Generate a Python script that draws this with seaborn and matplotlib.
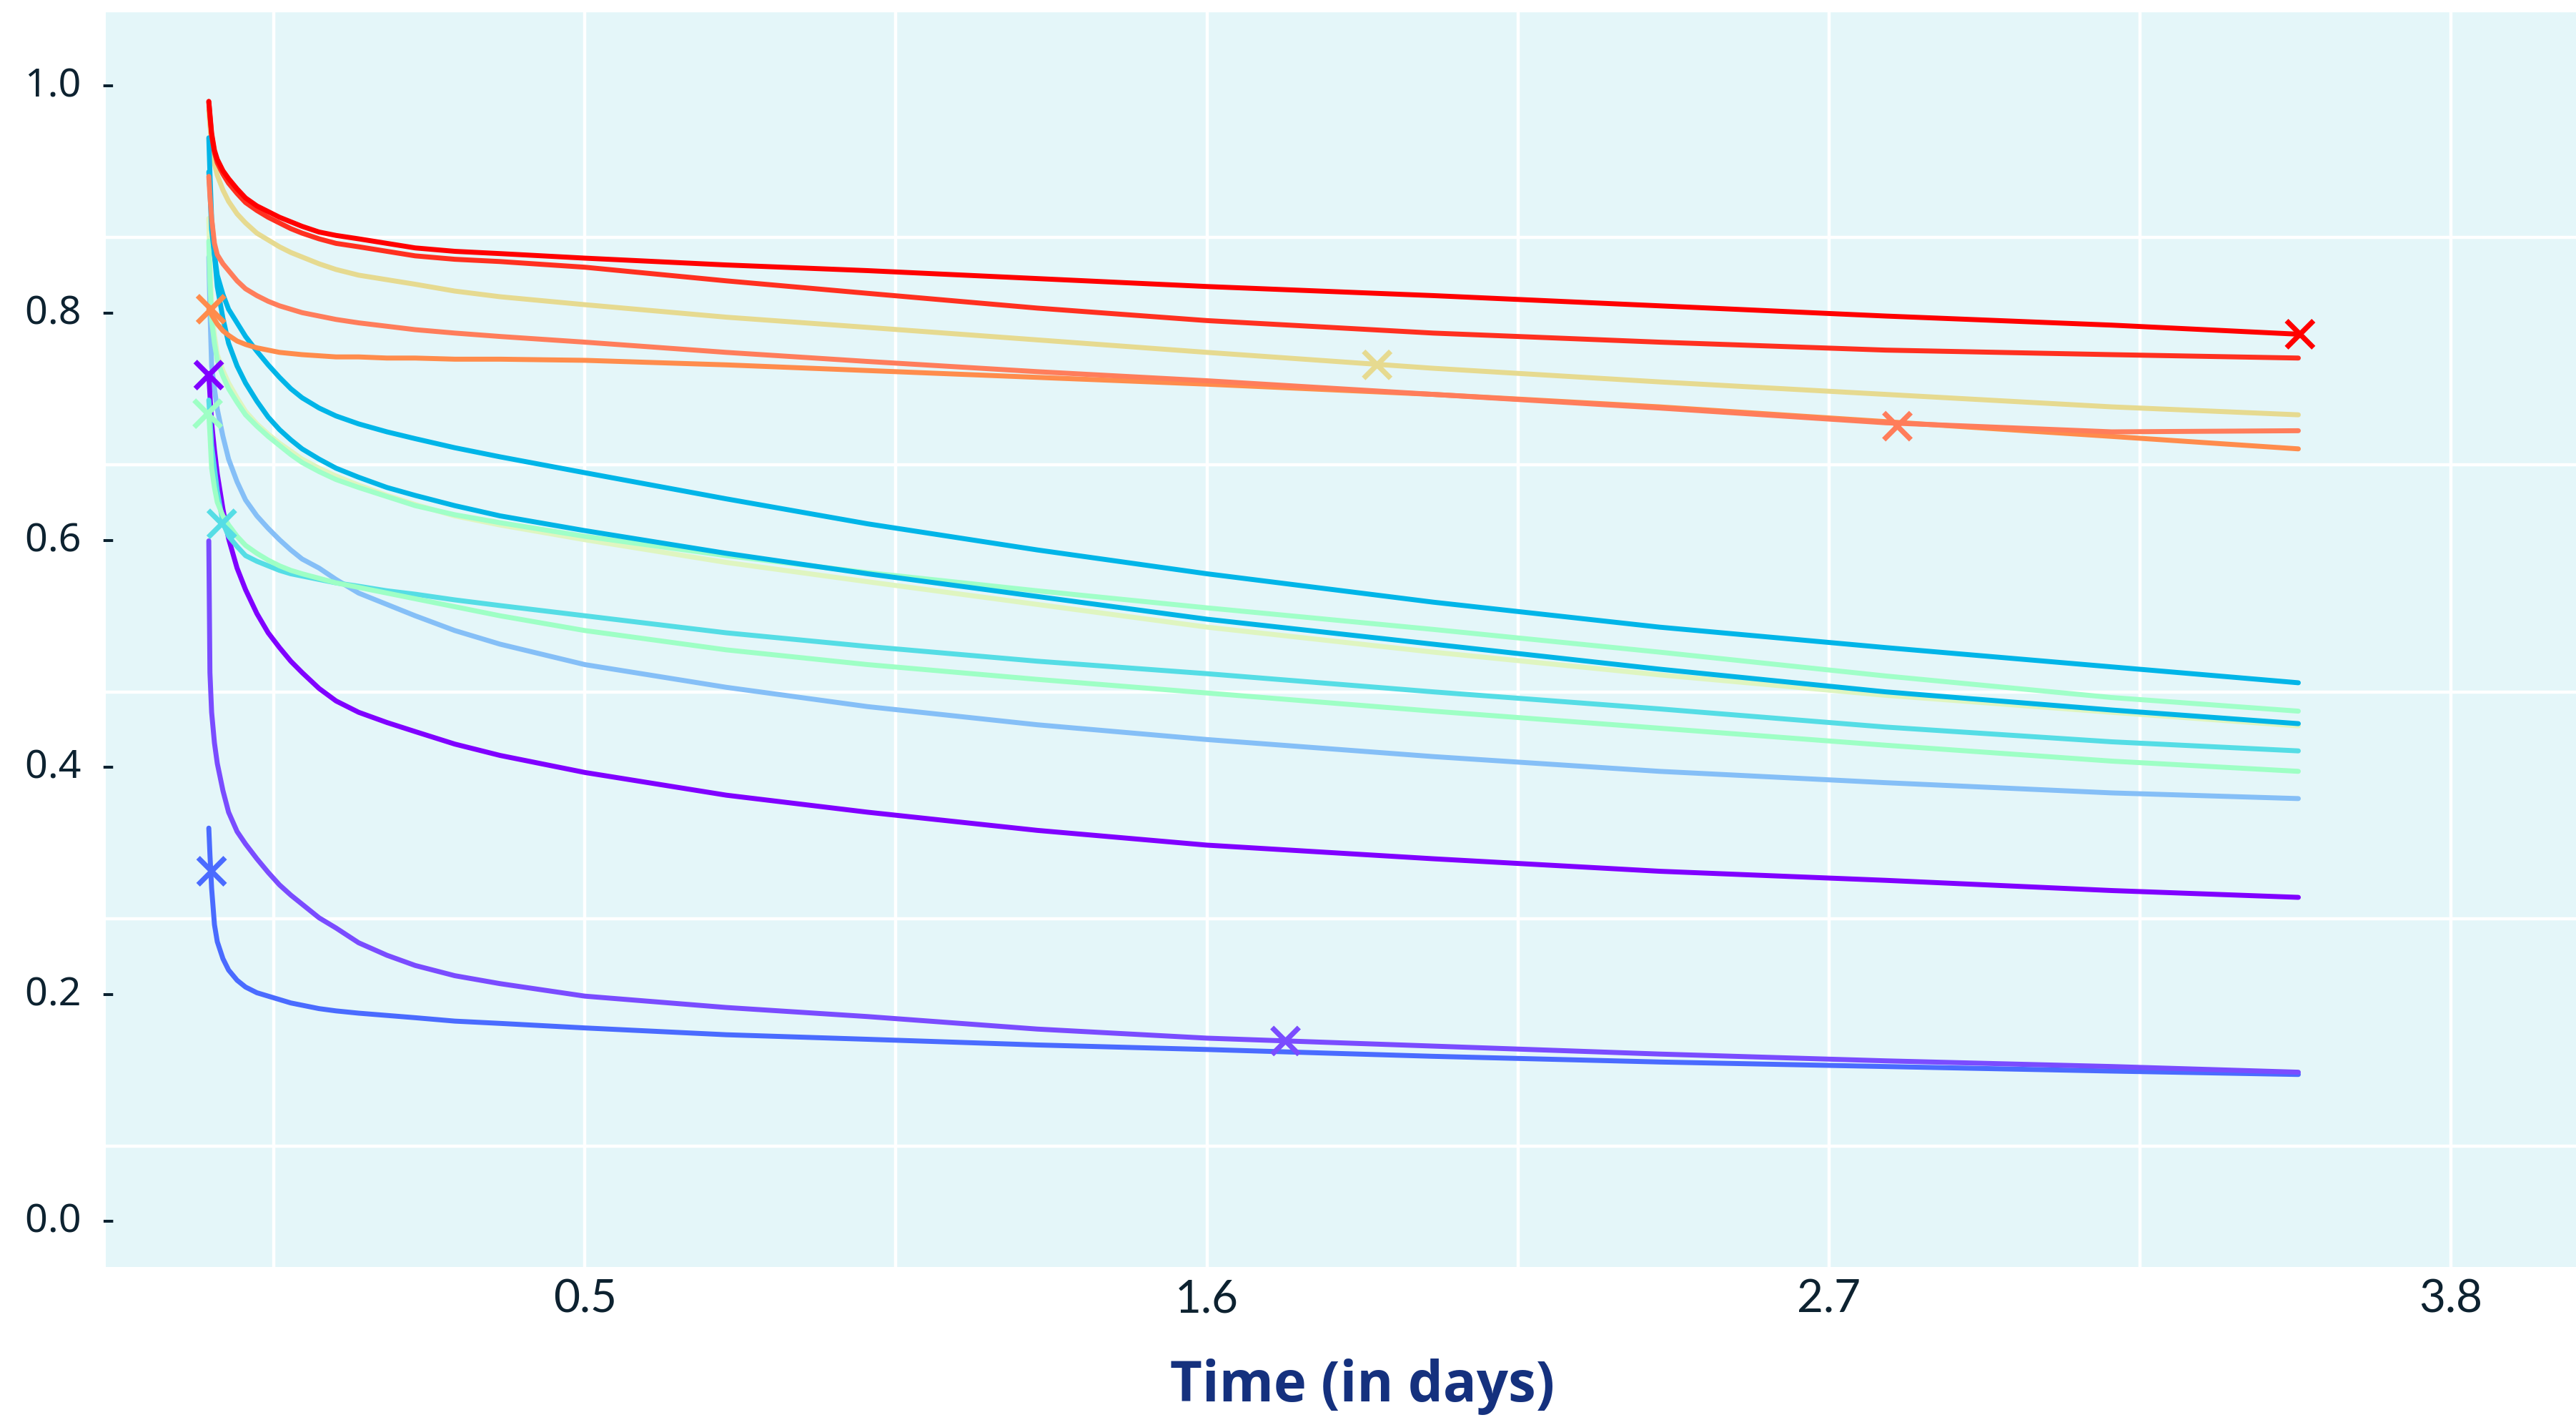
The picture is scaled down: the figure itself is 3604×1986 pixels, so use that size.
import numpy as np
import pandas as pd
import matplotlib.pyplot as plt
import seaborn as sns

# time grid (days) shared by every curve
days = [-0.165, -0.163, -0.16, -0.155, -0.15, -0.14, -0.13, -0.115, -0.1, -0.08,
        -0.06, -0.04, -0.02, 0.0, 0.03, 0.06, 0.1, 0.15, 0.2, 0.27, 0.35,
        0.5, 0.75, 1.0, 1.3, 1.6, 2.0, 2.4, 2.8, 3.2, 3.53]

pale   = [0.880, 0.840, 0.800, 0.777, 0.760, 0.746, 0.735, 0.722, 0.710, 0.699,
          0.690, 0.682, 0.675, 0.668, 0.660, 0.653, 0.645, 0.636, 0.628, 0.618, 0.610,
          0.597, 0.577, 0.560, 0.540, 0.520, 0.498, 0.478, 0.460, 0.445, 0.433]
khaki  = [0.975, 0.962, 0.945, 0.928, 0.918, 0.905, 0.895, 0.884, 0.876, 0.867,
          0.861, 0.855, 0.850, 0.846, 0.840, 0.835, 0.830, 0.826, 0.822, 0.816, 0.811,
          0.804, 0.793, 0.784, 0.773, 0.762, 0.748, 0.736, 0.725, 0.714, 0.707]
lblue  = [0.846, 0.800, 0.750, 0.730, 0.712, 0.688, 0.668, 0.648, 0.632, 0.618,
          0.607, 0.597, 0.588, 0.580, 0.572, 0.562, 0.550, 0.540, 0.530, 0.517, 0.505,
          0.487, 0.467, 0.450, 0.434, 0.421, 0.406, 0.393, 0.383, 0.374, 0.369]
blue   = [0.343, 0.320, 0.290, 0.258, 0.243, 0.228, 0.218, 0.209, 0.203, 0.198,
          0.195, 0.192, 0.189, 0.187, 0.184, 0.182, 0.180, 0.178, 0.176, 0.173, 0.171,
          0.167, 0.161, 0.157, 0.152, 0.148, 0.142, 0.137, 0.133, 0.129, 0.126]
pblue  = [0.596, 0.480, 0.445, 0.418, 0.400, 0.376, 0.357, 0.340, 0.329, 0.316,
          0.304, 0.293, 0.284, 0.276, 0.264, 0.255, 0.242, 0.231, 0.222, 0.213, 0.206,
          0.195, 0.185, 0.177, 0.166, 0.158, 0.151, 0.144, 0.138, 0.133, 0.128]
violet = [0.742, 0.725, 0.700, 0.676, 0.655, 0.624, 0.598, 0.572, 0.553, 0.532,
          0.515, 0.502, 0.490, 0.480, 0.466, 0.455, 0.445, 0.436, 0.428, 0.417, 0.407,
          0.392, 0.372, 0.357, 0.341, 0.328, 0.316, 0.305, 0.297, 0.288, 0.282]
turq   = [0.720, 0.705, 0.680, 0.660, 0.640, 0.612, 0.600, 0.591, 0.583, 0.578,
          0.574, 0.570, 0.567, 0.565, 0.562, 0.559, 0.556, 0.552, 0.549, 0.544, 0.539,
          0.530, 0.515, 0.503, 0.490, 0.479, 0.463, 0.448, 0.432, 0.419, 0.411]
mint   = [0.708, 0.690, 0.660, 0.643, 0.630, 0.618, 0.610, 0.600, 0.592, 0.585,
          0.579, 0.574, 0.570, 0.567, 0.563, 0.559, 0.555, 0.550, 0.545, 0.538, 0.530,
          0.517, 0.500, 0.487, 0.474, 0.462, 0.446, 0.431, 0.416, 0.402, 0.393]
lgreen = [0.860, 0.825, 0.790, 0.770, 0.755, 0.741, 0.730, 0.718, 0.707, 0.697,
          0.688, 0.680, 0.672, 0.665, 0.657, 0.650, 0.643, 0.635, 0.627, 0.619, 0.612,
          0.600, 0.583, 0.568, 0.552, 0.537, 0.518, 0.498, 0.477, 0.458, 0.446]
cyan_b = [0.951, 0.920, 0.880, 0.848, 0.820, 0.792, 0.770, 0.750, 0.735, 0.719,
          0.705, 0.694, 0.685, 0.677, 0.668, 0.660, 0.652, 0.643, 0.636, 0.627, 0.618,
          0.605, 0.585, 0.567, 0.547, 0.527, 0.505, 0.483, 0.463, 0.447, 0.435]
cyan_a = [0.921, 0.905, 0.870, 0.848, 0.830, 0.813, 0.800, 0.788, 0.776, 0.763,
          0.751, 0.740, 0.730, 0.722, 0.713, 0.706, 0.699, 0.692, 0.686, 0.678, 0.670,
          0.656, 0.633, 0.611, 0.588, 0.567, 0.542, 0.520, 0.502, 0.485, 0.471]
orange = [0.800, 0.798, 0.795, 0.791, 0.787, 0.781, 0.777, 0.772, 0.769, 0.766,
          0.764, 0.762, 0.761, 0.760, 0.759, 0.758, 0.758, 0.757, 0.757, 0.756, 0.756,
          0.755, 0.751, 0.746, 0.740, 0.734, 0.725, 0.714, 0.701, 0.688, 0.677]
salmon = [0.917, 0.900, 0.880, 0.858, 0.848, 0.840, 0.834, 0.825, 0.818, 0.812,
          0.807, 0.803, 0.800, 0.797, 0.794, 0.791, 0.788, 0.785, 0.782, 0.779, 0.776,
          0.771, 0.762, 0.754, 0.745, 0.737, 0.725, 0.713, 0.700, 0.692, 0.693]
red_b  = [0.983, 0.970, 0.953, 0.938, 0.929, 0.919, 0.911, 0.902, 0.894, 0.887,
          0.881, 0.876, 0.871, 0.867, 0.862, 0.858, 0.855, 0.851, 0.847, 0.844, 0.842,
          0.837, 0.825, 0.814, 0.801, 0.790, 0.779, 0.771, 0.764, 0.760, 0.757]
red_a  = [0.983, 0.972, 0.955, 0.940, 0.932, 0.922, 0.915, 0.906, 0.898, 0.891,
          0.886, 0.881, 0.877, 0.873, 0.868, 0.865, 0.862, 0.858, 0.854, 0.851, 0.849,
          0.845, 0.839, 0.834, 0.827, 0.820, 0.812, 0.803, 0.794, 0.786, 0.778]

series = {
    'pale': (pale, '#dff5c0'), 'khaki': (khaki, '#e6da90'), 'lblue': (lblue, '#85bff7'),
    'blue': (blue, '#4a6bff'), 'pblue': (pblue, '#7a4cff'), 'violet': (violet, '#8000ff'),
    'turq': (turq, '#55dde5'), 'mint': (mint, '#9effc5'), 'lgreen': (lgreen, '#a0ffc8'),
    'cyan_b': (cyan_b, '#00b4e6'), 'cyan_a': (cyan_a, '#00b5e8'), 'orange': (orange, '#ff8c4c'),
    'salmon': (salmon, '#ff7d5b'), 'red_b': (red_b, '#ff3020'), 'red_a': (red_a, '#ff0000'),
}

# X markers
mark_series = ['orange', 'violet', 'mint', 'turq', 'blue', 'pblue', 'khaki', 'salmon', 'red_a']
mark_day    = [-0.161, -0.165, -0.167, -0.142, -0.160, 1.739, 1.901, 2.821, 3.533]
mark_val    = [0.800, 0.742, 0.708, 0.611, 0.305, 0.1555, 0.751, 0.697, 0.778]

y_ticks = [0.0, 0.2, 0.4, 0.6, 0.8, 1.0]
x_ticks = [0.5, 1.6, 2.7, 3.8]
x_grid = [-0.05, 1.05, 2.15, 3.25]
y_grid = [0.063, 0.263, 0.463, 0.663, 0.863, 1.063]

rows = []
for name, (vals, _) in series.items():
    for d, v in zip(days, vals):
        rows.append((name, d, v))
df = pd.DataFrame(rows, columns=['series', 'day', 'value'])
palette = {k: c for k, (_, c) in series.items()}
marks = pd.DataFrame({'series': mark_series, 'day': mark_day, 'value': mark_val})

sns.set_theme(style='white', rc={'axes.facecolor': '#e4f6f9'})
fig = plt.figure(figsize=(18.02, 9.93), dpi=200)
ax = fig.add_axes([0.0411, 0.1078, 0.9589, 0.8852])

sns.lineplot(data=df, x='day', y='value', hue='series', hue_order=list(series.keys()),
             palette=palette, estimator=None, sort=False, lw=2.5, legend=False, ax=ax)
sns.scatterplot(data=marks, x='day', y='value', hue='series', palette=palette,
                marker='x', s=185, linewidth=2.6, legend=False, ax=ax, zorder=5)

ax.set_xlim(-0.347, 4.021)
ax.set_ylim(-0.0435, 1.0636)
for s in ax.spines.values():
    s.set_visible(False)

ax.set_xticks(x_ticks)
ax.set_xticklabels([f'{t:.1f}' for t in x_ticks], family='Lato', fontsize=23, color='#0d2230')
ax.set_yticks(y_ticks)
ax.set_yticklabels([f'{t:.1f}  -' for t in y_ticks], family='Noto Sans', fontsize=20, color='#0d2230')
for lab in ax.get_yticklabels():
    lab.set_ha('center')
ax.set_xticks(x_grid, minor=True)
ax.set_yticks(y_grid, minor=True)
ax.tick_params(which='both', length=0)
ax.tick_params(axis='x', pad=6)
ax.tick_params(axis='y', pad=18)
ax.grid(False)
ax.grid(True, which='major', axis='x', color='white', lw=1.6)
ax.grid(True, which='minor', color='white', lw=1.6)
ax.set_axisbelow(True)

ax.set_ylabel('')
ax.set_xlabel('Time (in days)', family='Open Sans', fontweight='bold', fontsize=28,
              color='#15317e')
ax.xaxis.set_label_coords(0.5086, -0.073)

fig.savefig('out.png', dpi=200, facecolor='white')
